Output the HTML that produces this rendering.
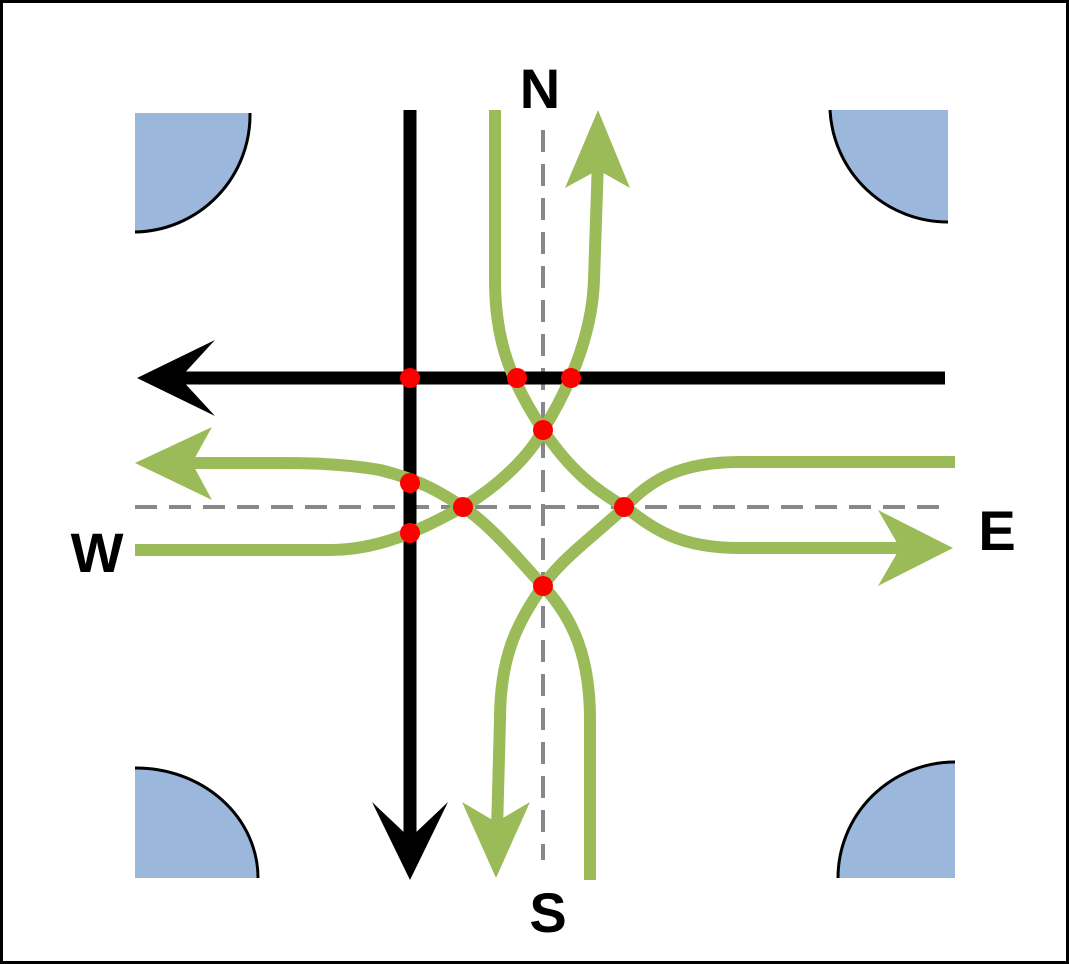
<!DOCTYPE html>
<html><head><meta charset="utf-8"><style>
html,body{margin:0;padding:0;background:#fff;}
svg{display:block;}
text{font-family:"Liberation Sans",sans-serif;font-weight:bold;}
</style></head><body>
<svg width="1069" height="964" viewBox="0 0 1069 964">
<rect x="1.5" y="1.5" width="1066" height="961" fill="#fff" stroke="#000" stroke-width="3"/>
<g fill="#9bb7dc" stroke="#000" stroke-width="3">
<path d="M135,113 L250,113 A117,117 0 0 1 135,232 Z" stroke="none"/>
<path d="M250,113 A117,117 0 0 1 135,232" fill="none"/>
<path d="M948,110 L948,222 A118,118 0 0 1 830,110 Z" stroke="none"/>
<path d="M948,222 A118,118 0 0 1 830,110" fill="none"/>
<path d="M135,878 L135,768 A122,110 0 0 1 258,878 Z" stroke="none"/>
<path d="M135,768 A122,110 0 0 1 258,878" fill="none"/>
<path d="M955,878 L838,878 A117,116 0 0 1 955,762 Z" stroke="none"/>
<path d="M838,878 A117,116 0 0 1 955,762" fill="none"/>
</g>
<g stroke="#888" stroke-width="4" stroke-dasharray="22,12" fill="none">
<line x1="543" y1="130" x2="543" y2="860"/>
<line x1="135" y1="507" x2="945" y2="507"/>
</g>
<g>
<line x1="410" y1="110" x2="410" y2="860" stroke="#000" stroke-width="13"/>
<polygon points="410,880 372,802 410,838 448,802" fill="#000"/>
<line x1="945" y1="378" x2="160" y2="378" stroke="#000" stroke-width="13"/>
<polygon points="137,378 215,340 180,378 215,416" fill="#000"/>
</g>
<g fill="none" stroke="#9bbb59" stroke-width="12">
<path d="M495,110 L495,280 C495,340 510,380 543,430 C570,470 595,490 625,507 C655,530 680,548 740,548 L900,548"/>
<path d="M135,550 L330,550 C380,550 420,530 463,507 C500,485 530,455 543,430 C565,395 592,340 594,280 L598,160"/>
<path d="M955,462 L740,462 C680,462 650,480 625,507 C595,535 560,560 543,586 C515,625 500,660 500,720 L497,830"/>
<path d="M590,880 L590,720 C590,660 575,620 543,586 C515,555 490,525 463,507 C440,492 420,480 380,470 C340,463 300,463 280,463 L170,463"/>
</g>
<g fill="#9bbb59">
<polygon points="953,548 878,510 900,548 878,586"/>
<polygon points="598,110 630,188 598,170 565,188"/>
<polygon points="496,878 462,802 496,822 530,802"/>
<polygon points="135,463 212,427 192,463 212,500"/>
</g>
<g fill="#f00">
<circle cx="410" cy="378" r="10"/><circle cx="517" cy="378" r="10"/><circle cx="571" cy="378" r="10"/>
<circle cx="543" cy="430" r="10"/><circle cx="410" cy="483" r="10"/><circle cx="463" cy="507" r="10"/>
<circle cx="410" cy="533" r="10"/><circle cx="624" cy="507" r="10"/><circle cx="543" cy="586" r="10"/>
</g>
<text x="540" y="108" font-size="56" text-anchor="middle">N</text>
<text x="97" y="572" font-size="56" text-anchor="middle">W</text>
<text x="997" y="550" font-size="56" text-anchor="middle">E</text>
<text x="548" y="932" font-size="56" text-anchor="middle">S</text>
</svg>
</body></html>
